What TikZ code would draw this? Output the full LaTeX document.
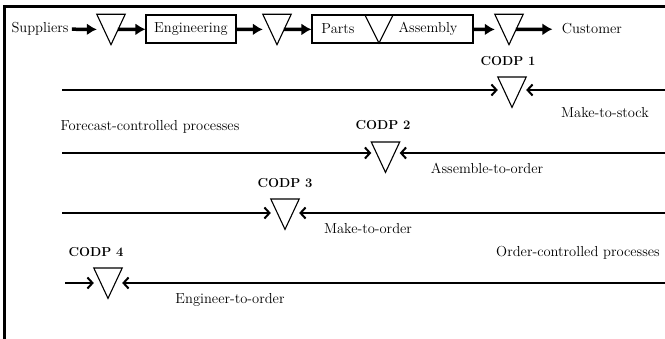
\documentclass[tikz,border=0pt]{standalone}
\usepackage{tikz}
\usetikzlibrary{arrows.meta}

\begin{document}
\begin{tikzpicture}[x=1pt, y=-1pt, font=\fontsize{14.5}{16}\selectfont]
\tikzstyle{stepBox} =
[
	shape			= rectangle,		% shape
	draw			= black,			% colour of the border
	line width		= 1.1pt,			% thickness of the border
	minimum width	= 90pt,				% | size of the box
	minimum height	= 28pt,				% |
	inner sep		= 0pt				% no extra space round the text
]
\tikzstyle{codpTri} =
[
	shape			= rectangle,		% invisible box holding the triangle
	minimum width	= 28pt,				% | size of the triangle
	minimum height	= 30pt,				% |
	inner sep		= 0pt
]
\tikzstyle{codpText} = [font = \fontsize{13}{15}\selectfont\bfseries]
\tikzstyle{flow} = [line width = 3.5pt, -{Latex[length=10pt, width=12pt]}]
\tikzstyle{pull} = [line width = 2pt, -{Straight Barb[length=5pt, width=11pt]}]

\useasboundingbox (0,0) rectangle (665,339);
\draw [line width=2.5pt] (4.5,339) -- (4.5,6.5) -- (665,6.5);

% supply chain
\node (suppliers) at (40,29) {Suppliers};
\node (t0a) [codpTri] at (111,29.5) {};
\node (eng) [stepBox] at (191,29) {Engineering};
\node (t0b) [codpTri] at (277,29.5) {};
\node (pa) [stepBox, minimum width = 161pt] at (392.5,29) {};
\node (tpa) [codpTri, minimum height = 28pt] at (379,29) {};
\node (parts) at (338,29) {Parts};
\node (assembly) at (428,29) {Assembly};
\node (t0c) [codpTri] at (509,29.5) {};
\node (customer) at (592,29) {Customer};
\draw [flow] (suppliers) -- (t0a);
\draw [flow, shorten <=7pt] (t0a.center) -- (eng);
\draw [flow] (eng) -- (t0b);
\draw [flow, shorten <=7pt] (t0b.center) -- (pa);
\draw [flow] (pa) -- (t0c);
\draw [flow, shorten <=7pt, shorten >=6pt] (t0c.center) -- (customer);

% decoupling points
\node (t1) [codpTri, anchor = north] at (512,77) {};
\node (t2) [codpTri, anchor = north] at (385.5,142) {};
\node (t3) [codpTri, anchor = north] at (285,199) {};
\node (t4) [codpTri, anchor = north] at (108,268) {};
\node (codp1) [codpText] at (508,61) {CODP 1};
\node (codp2) [codpText] at (383,125) {CODP 2};
\node (codp3) [codpText] at (285,183) {CODP 3};
\node (codp4) [codpText] at (96,252) {CODP 4};
\foreach \t in {t0a,t0b,tpa,t0c,t1,t2,t3,t4}
	\draw [line width=1.1pt] (\t.north west) -- (\t.north east) -- (\t.south) -- cycle;

\coordinate (s1) at (62,90);   \coordinate (e1) at (665,90);
\coordinate (s2) at (62,153);  \coordinate (e2) at (665,153);
\coordinate (s3) at (62,213);  \coordinate (e3) at (665,213);
\coordinate (s4) at (65,283);  \coordinate (e4) at (665,283);
\draw [pull] (s1) -- (s1 -| t1.west);
\draw [pull] (e1) -- (e1 -| t1.east);
\draw [pull] (s2) -- (s2 -| t2.west);
\draw [pull] (e2) -- (e2 -| t2.east);
\draw [pull] (s3) -- (s3 -| t3.west);
\draw [pull] (e3) -- (e3 -| t3.east);
\draw [pull] (s4) -- (s4 -| t4.west);
\draw [pull] (e4) -- (e4 -| t4.east);

\node (mts) at (605,113) {Make-to-stock};
\node (forecast) at (150,127) {Forecast-controlled processes};
\node (ato) at (487,168) {Assemble-to-order};
\node (mto) at (368,229) {Make-to-order};
\node (order) at (578,253) {Order-controlled processes};
\node (eto) at (230,300) {Engineer-to-order};
\end{tikzpicture}
\end{document}
